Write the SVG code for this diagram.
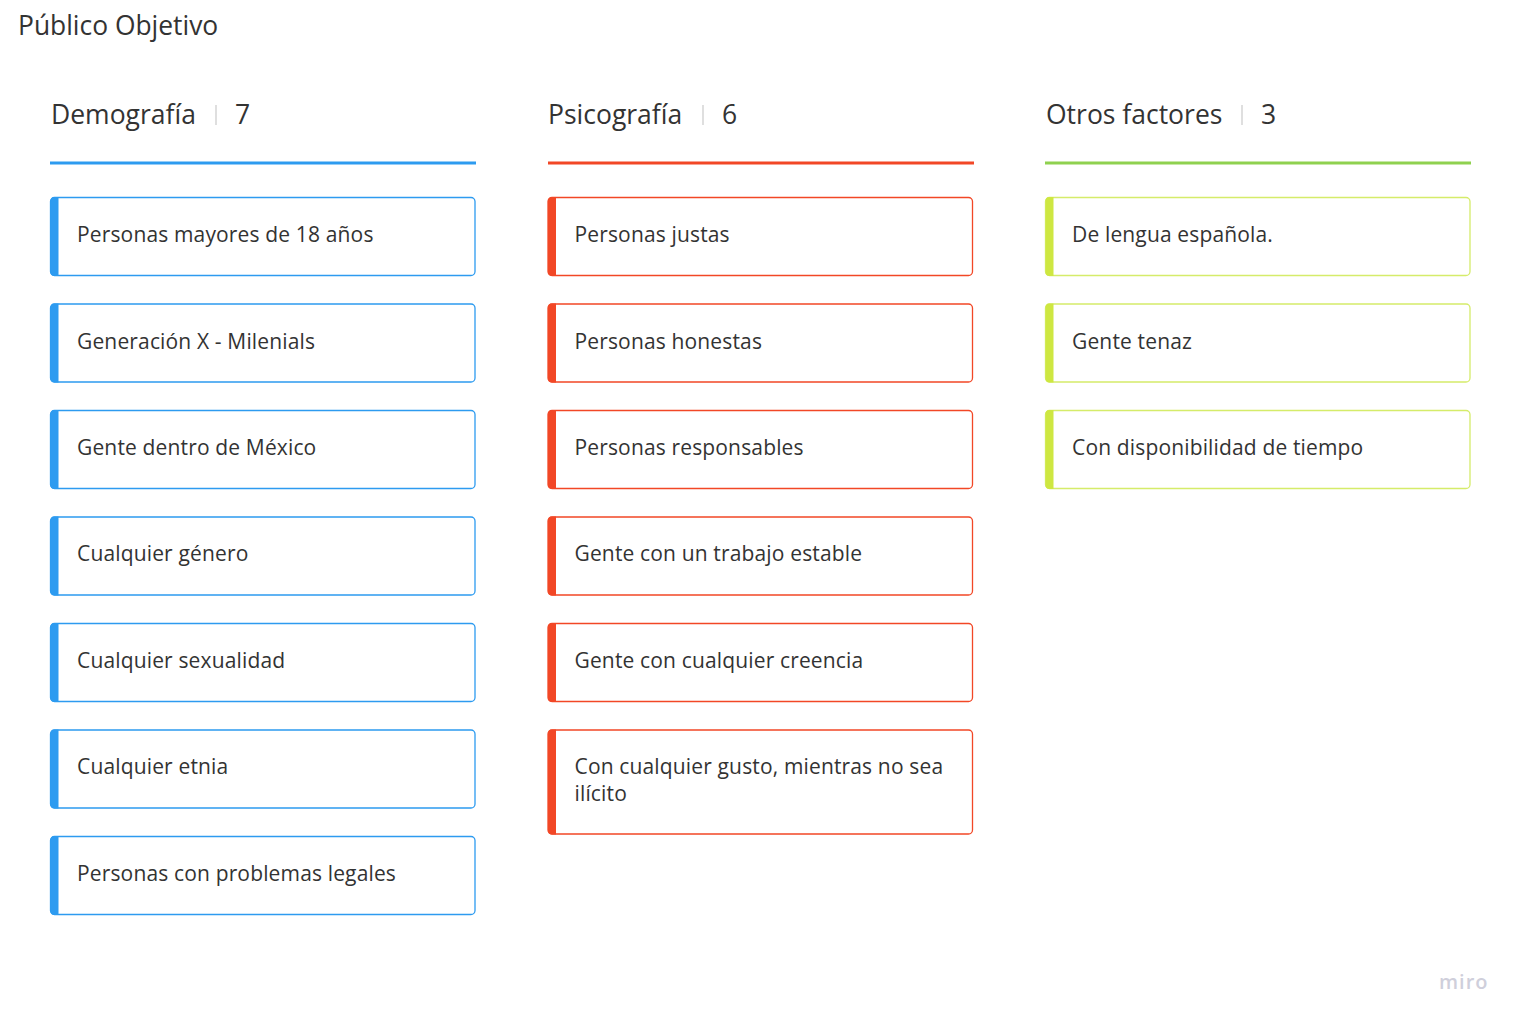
<svg xmlns="http://www.w3.org/2000/svg" width="1523" height="1025" viewBox="0 0 1523 1025">
<style>
text{font-family:"Open Sans","Noto Sans","Liberation Sans",sans-serif;fill:#333}
.title{font-size:26.4px}
.head{font-size:26.5px}
.sep{stroke:#d4d4d4;stroke-width:1.5}
.card{font-size:21px;letter-spacing:0.15px}
.cb{fill:#fff;stroke:#2d9bf0;stroke-width:1.3}
.cr{fill:#fff;stroke:#f24726;stroke-width:1.3}
.cg{fill:#fff;stroke:#d5ec6a;stroke-width:1.3}
.bb{fill:#2d9bf0}.br{fill:#f24726}.bg{fill:#cee741}
</style>
<rect width="1523" height="1025" fill="#fff"/>
<text class="title" x="18" y="35">Público Objetivo</text>

<g id="col-demografia">
<text class="head" x="51" y="124">Demografía</text>
<line class="sep" x1="216" y1="105" x2="216" y2="125"/>
<text class="head" x="235" y="124">7</text>
<rect x="50" y="161.5" width="426" height="3" fill="#2d9bf0"/>
</g>
<g id="col-psicografia">
<text class="head" x="548" y="124">Psicografía</text>
<line class="sep" x1="703" y1="105" x2="703" y2="125"/>
<text class="head" x="722" y="124">6</text>
<rect x="548" y="161.5" width="426" height="3" fill="#f24726"/>
</g>
<g id="col-otros">
<text class="head" x="1046" y="124">Otros factores</text>
<line class="sep" x1="1242" y1="105" x2="1242" y2="125"/>
<text class="head" x="1261" y="124">3</text>
<rect x="1045" y="161.5" width="426" height="3" fill="#8fd14f"/>
</g>

<g id="d1"><rect class="cb" x="50.5" y="197.5" width="424.5" height="78" rx="4"/><path class="bb" d="M54.5 197h4v79h-4a4 4 0 0 1-4-4v-71a4 4 0 0 1 4-4z"/><text class="card" x="77" y="242">Personas mayores de 18 años</text></g>
<g id="d2"><rect class="cb" x="50.5" y="304" width="424.5" height="78" rx="4"/><path class="bb" d="M54.5 303.5h4v79h-4a4 4 0 0 1-4-4v-71a4 4 0 0 1 4-4z"/><text class="card" x="77" y="349">Generación X - Milenials</text></g>
<g id="d3"><rect class="cb" x="50.5" y="410.5" width="424.5" height="78" rx="4"/><path class="bb" d="M54.5 410h4v79h-4a4 4 0 0 1-4-4v-71a4 4 0 0 1 4-4z"/><text class="card" x="77" y="455">Gente dentro de México</text></g>
<g id="d4"><rect class="cb" x="50.5" y="517" width="424.5" height="78" rx="4"/><path class="bb" d="M54.5 516.5h4v79h-4a4 4 0 0 1-4-4v-71a4 4 0 0 1 4-4z"/><text class="card" x="77" y="561">Cualquier género</text></g>
<g id="d5"><rect class="cb" x="50.5" y="623.5" width="424.5" height="78" rx="4"/><path class="bb" d="M54.5 623h4v79h-4a4 4 0 0 1-4-4v-71a4 4 0 0 1 4-4z"/><text class="card" x="77" y="668">Cualquier sexualidad</text></g>
<g id="d6"><rect class="cb" x="50.5" y="730" width="424.5" height="78" rx="4"/><path class="bb" d="M54.5 729.5h4v79h-4a4 4 0 0 1-4-4v-71a4 4 0 0 1 4-4z"/><text class="card" x="77" y="774">Cualquier etnia</text></g>
<g id="d7"><rect class="cb" x="50.5" y="836.5" width="424.5" height="78" rx="4"/><path class="bb" d="M54.5 836h4v79h-4a4 4 0 0 1-4-4v-71a4 4 0 0 1 4-4z"/><text class="card" x="77" y="881">Personas con problemas legales</text></g>

<g id="p1"><rect class="cr" x="548" y="197.5" width="424.5" height="78" rx="4"/><path class="br" d="M552 197h4v79h-4a4 4 0 0 1-4-4v-71a4 4 0 0 1 4-4z"/><text class="card" x="574.5" y="242">Personas justas</text></g>
<g id="p2"><rect class="cr" x="548" y="304" width="424.5" height="78" rx="4"/><path class="br" d="M552 303.5h4v79h-4a4 4 0 0 1-4-4v-71a4 4 0 0 1 4-4z"/><text class="card" x="574.5" y="349">Personas honestas</text></g>
<g id="p3"><rect class="cr" x="548" y="410.5" width="424.5" height="78" rx="4"/><path class="br" d="M552 410h4v79h-4a4 4 0 0 1-4-4v-71a4 4 0 0 1 4-4z"/><text class="card" x="574.5" y="455">Personas responsables</text></g>
<g id="p4"><rect class="cr" x="548" y="517" width="424.5" height="78" rx="4"/><path class="br" d="M552 516.5h4v79h-4a4 4 0 0 1-4-4v-71a4 4 0 0 1 4-4z"/><text class="card" x="574.5" y="561">Gente con un trabajo estable</text></g>
<g id="p5"><rect class="cr" x="548" y="623.5" width="424.5" height="78" rx="4"/><path class="br" d="M552 623h4v79h-4a4 4 0 0 1-4-4v-71a4 4 0 0 1 4-4z"/><text class="card" x="574.5" y="668">Gente con cualquier creencia</text></g>
<g id="p6"><rect class="cr" x="548" y="730" width="424.5" height="104" rx="4"/><path class="br" d="M552 729.5h4v105h-4a4 4 0 0 1-4-4v-97a4 4 0 0 1 4-4z"/><text class="card" x="574.5" y="774">Con cualquier gusto, mientras no sea</text><text class="card" x="574.5" y="801">ilícito</text></g>

<g id="o1"><rect class="cg" x="1045.5" y="197.5" width="424.5" height="78" rx="4"/><path class="bg" d="M1049.5 197h4v79h-4a4 4 0 0 1-4-4v-71a4 4 0 0 1 4-4z"/><text class="card" x="1072" y="242">De lengua española.</text></g>
<g id="o2"><rect class="cg" x="1045.5" y="304" width="424.5" height="78" rx="4"/><path class="bg" d="M1049.5 303.5h4v79h-4a4 4 0 0 1-4-4v-71a4 4 0 0 1 4-4z"/><text class="card" x="1072" y="349">Gente tenaz</text></g>
<g id="o3"><rect class="cg" x="1045.5" y="410.5" width="424.5" height="78" rx="4"/><path class="bg" d="M1049.5 410h4v79h-4a4 4 0 0 1-4-4v-71a4 4 0 0 1 4-4z"/><text class="card" x="1072" y="455">Con disponibilidad de tiempo</text></g>

<g id="connectors"></g>
<text x="1439" y="989" style="font-size:20px;fill:#cfcfdb;letter-spacing:1px;font-weight:600">miro</text>
</svg>
